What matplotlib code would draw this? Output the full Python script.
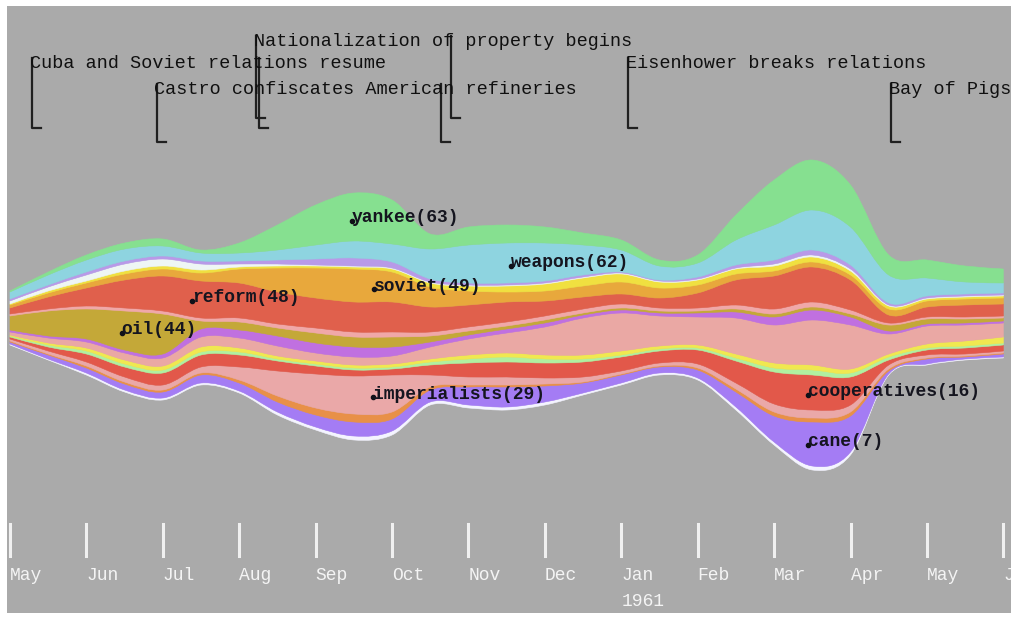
import numpy as np
import matplotlib.pyplot as plt
from matplotlib.path import Path
from matplotlib.patches import PathPatch

# time axis: months since May 1960, sampled every half month
months = np.arange(27) * 0.5
month_labels = ['May', 'Jun', 'Jul', 'Aug', 'Sep', 'Oct', 'Nov', 'Dec',
                'Jan', 'Feb', 'Mar', 'Apr', 'May', 'Jun']

# lower edge of the stream
baseline = [-25, -40, -55, -72, -80, -65, -73, -95, -110, -120, -115, -85, -88, -90,
            -85, -75, -65, -55, -60, -90, -125, -150, -135, -55, -45, -40, -38]

# layers, top to bottom
yankee = [1, 3, 5, 6, 7, 3, 10, 25, 40, 48, 44, 15, 18, 18, 16, 12, 10, 6, 8, 25, 45, 50, 42, 20, 18, 16, 14]
weapons = [7, 10, 12, 12, 10, 8, 8, 10, 14, 17, 18, 30, 38, 40, 38, 30, 22, 14, 14, 25, 35, 40, 38, 28, 18, 12, 10]
lav = [2, 2, 3, 3, 3, 3, 3, 4, 6, 8, 6, 3, 2, 2, 2, 2, 1, 1, 2, 3, 4, 5, 4, 2, 2, 2, 2]
pale = [3, 4, 6, 7, 7, 6, 3, 2, 1, 1, 1, 1, 1, 1, 1, 1, 1, 1, 1, 1, 2, 2, 2, 1, 1, 1, 1]
yellow = [1, 2, 2, 3, 3, 3, 2, 2, 2, 2, 3, 4, 5, 6, 7, 8, 8, 6, 5, 5, 5, 5, 4, 3, 2, 2, 2]
soviet = [3, 4, 5, 6, 7, 8, 14, 24, 30, 33, 30, 20, 14, 10, 10, 11, 12, 10, 8, 6, 5, 5, 5, 6, 6, 6, 6]
reform = [6, 12, 18, 28, 35, 37, 35, 32, 30, 30, 30, 25, 22, 20, 15, 12, 10, 10, 15, 25, 33, 35, 30, 8, 10, 12, 12]
pink = [2, 2, 3, 3, 3, 3, 4, 4, 5, 5, 5, 4, 4, 4, 4, 4, 4, 3, 3, 4, 5, 5, 4, 2, 2, 2, 2]
oil = [14, 25, 30, 39, 40, 8, 8, 8, 10, 10, 10, 6, 4, 3, 3, 2, 2, 2, 2, 3, 3, 3, 3, 6, 5, 4, 3]
purple = [2, 2, 3, 3, 4, 8, 8, 10, 10, 10, 9, 5, 4, 4, 4, 3, 3, 3, 4, 6, 8, 10, 8, 3, 2, 2, 2]
lightpink = [3, 5, 6, 7, 8, 10, 10, 10, 8, 8, 8, 12, 16, 20, 28, 37, 38, 30, 28, 36, 38, 45, 44, 20, 18, 16, 14]
yellow2 = [1, 2, 3, 4, 4, 5, 4, 3, 3, 3, 3, 3, 4, 4, 4, 4, 4, 3, 3, 4, 5, 5, 4, 3, 4, 5, 6]
lgreen = [1, 2, 3, 3, 3, 3, 3, 2, 2, 2, 2, 3, 4, 5, 4, 3, 2, 2, 2, 3, 4, 5, 4, 3, 2, 2, 2]
cooperatives = [2, 4, 8, 10, 12, 12, 12, 10, 8, 6, 6, 10, 14, 15, 15, 15, 14, 12, 14, 22, 32, 35, 28, 5, 5, 6, 6]
imperialists = [2, 3, 4, 5, 5, 6, 13, 25, 34, 38, 37, 12, 8, 8, 6, 5, 3, 3, 4, 6, 8, 8, 7, 4, 3, 2, 2]
orange2 = [1, 1, 2, 2, 2, 2, 3, 6, 7, 8, 7, 3, 2, 2, 2, 1, 1, 1, 2, 3, 4, 4, 4, 2, 1, 1, 1]
cane = [2, 4, 5, 6, 6, 8, 8, 10, 12, 14, 12, 12, 18, 20, 16, 10, 8, 6, 8, 15, 26, 44, 36, 3, 5, 2, 3]
pale2 = [1, 1, 2, 2, 2, 2, 2, 3, 3, 4, 4, 3, 3, 3, 3, 2, 2, 2, 2, 3, 3, 4, 3, 1, 1, 1, 1]

layers = [yankee, weapons, lav, pale, yellow, soviet, reform, pink, oil, purple,
          lightpink, yellow2, lgreen, cooperatives, imperialists, orange2, cane, pale2]
colors = ['#86e090', '#8ed4e0', '#b89ae8', '#eef6f4', '#f0e040', '#e8a83c', '#e0604c',
          '#f0a8a8', '#c4a838', '#c070e0', '#eaa8a4', '#f0e850', '#b0f0a0', '#e2584a',
          '#eaa8a8', '#e89048', '#a47cf4', '#f4f4ff']

# word labels: (text, layer index, month)
label_words = ['yankee(63)', 'weapons(62)', 'soviet(49)', 'reform(48)', 'oil(44)',
               'imperialists(29)', 'cooperatives(16)', 'cane(7)']
label_layers = [0, 1, 5, 6, 8, 14, 13, 16]
label_months = [4.45, 6.54, 4.74, 2.36, 1.44, 4.73, 10.42, 10.42]

# events
event_names = ['Cuba and Soviet relations resume', 'Castro confiscates American refineries',
               'Nationalization of property begins', 'Eisenhower breaks relations', 'Bay of Pigs']
event_months = [0.29, 1.92, 3.22, 8.09, 11.53]
event_rows = [1, 2, 0, 1, 2]
row_y = [279, 257, 231]
row_foot = [202, 192, 178]
extra_marks = [3.26, 5.64, 5.77]
extra_rows = [1, 2, 0]


def bezier_verts(x, y):
    n = len(x)
    verts = [(x[0], y[0])]
    for i in range(n - 1):
        i0 = max(i - 1, 0)
        i3 = min(i + 2, n - 1)
        c1 = (x[i] + (x[i + 1] - x[i0]) / 6, y[i] + (y[i + 1] - y[i0]) / 6)
        c2 = (x[i + 1] - (x[i3] - x[i]) / 6, y[i + 1] - (y[i3] - y[i]) / 6)
        verts += [c1, c2, (x[i + 1], y[i + 1])]
    return verts


fig = plt.figure(figsize=(10.11, 6.17), dpi=100, facecolor='white')
ax = fig.add_axes([7 / 1011, 4 / 617, 1004 / 1011, 607 / 617])
ax.set_facecolor('#aaaaaa')
ax.set_xlim(-0.039, 13.1)
ax.set_ylim(-293, 314)
ax.set_xticks([])
ax.set_yticks([])
for s in ax.spines.values():
    s.set_visible(False)

# stack from the bottom up
lower = np.array(baseline, dtype=float)
bounds = {}
for k in range(len(layers) - 1, -1, -1):
    upper = lower + np.array(layers[k])
    bounds[k] = (lower.copy(), upper.copy())
    lv = bezier_verts(months, lower)
    uv = bezier_verts(months, upper)[::-1]
    n = len(lv)
    verts = lv + uv + [lv[0]]
    codes = [Path.MOVETO] + [Path.CURVE4] * (n - 1) + [Path.LINETO] + [Path.CURVE4] * (n - 1) + [Path.CLOSEPOLY]
    ax.add_patch(PathPatch(Path(verts, codes), facecolor=colors[k], edgecolor=colors[k], lw=0.4))
    lower = upper

mono = 'Liberation Mono'
for word, k, m in zip(label_words, label_layers, label_months):
    lo, up = bounds[k]
    yc = np.interp(m, months, (lo + up) / 2)
    ax.plot(m + 0.02, yc - 3, 'o', color='#101018', ms=3)
    ax.text(m + 0.02, yc, word, family=mono, fontsize=13, fontweight='bold',
            color='#15151f', va='center', ha='left')

for name, m, r in zip(event_names, event_months, event_rows):
    ax.plot([m, m, m + 0.12], [row_y[r] + 5, row_foot[r], row_foot[r]], color='#202020', lw=1.6)
    ax.text(m - 0.03, row_y[r], name, family=mono, fontsize=13.3, color='#101010',
            va='center', ha='left')
for m, r in zip(extra_marks, extra_rows):
    ax.plot([m, m, m + 0.12], [row_y[r] + 5, row_foot[r], row_foot[r]], color='#202020', lw=1.6)

# month ticks
for i, lab in enumerate(month_labels):
    ax.plot([i, i], [-204, -236], color='#f0f0f0', lw=2.2)
    ax.text(i, -255, lab, family=mono, fontsize=13, color='#f4f4f4', va='center', ha='left')
ax.text(8, -282, '1961', family=mono, fontsize=13, color='#f4f4f4', va='center', ha='left')

fig.savefig('out.png', dpi=100, facecolor='white')
